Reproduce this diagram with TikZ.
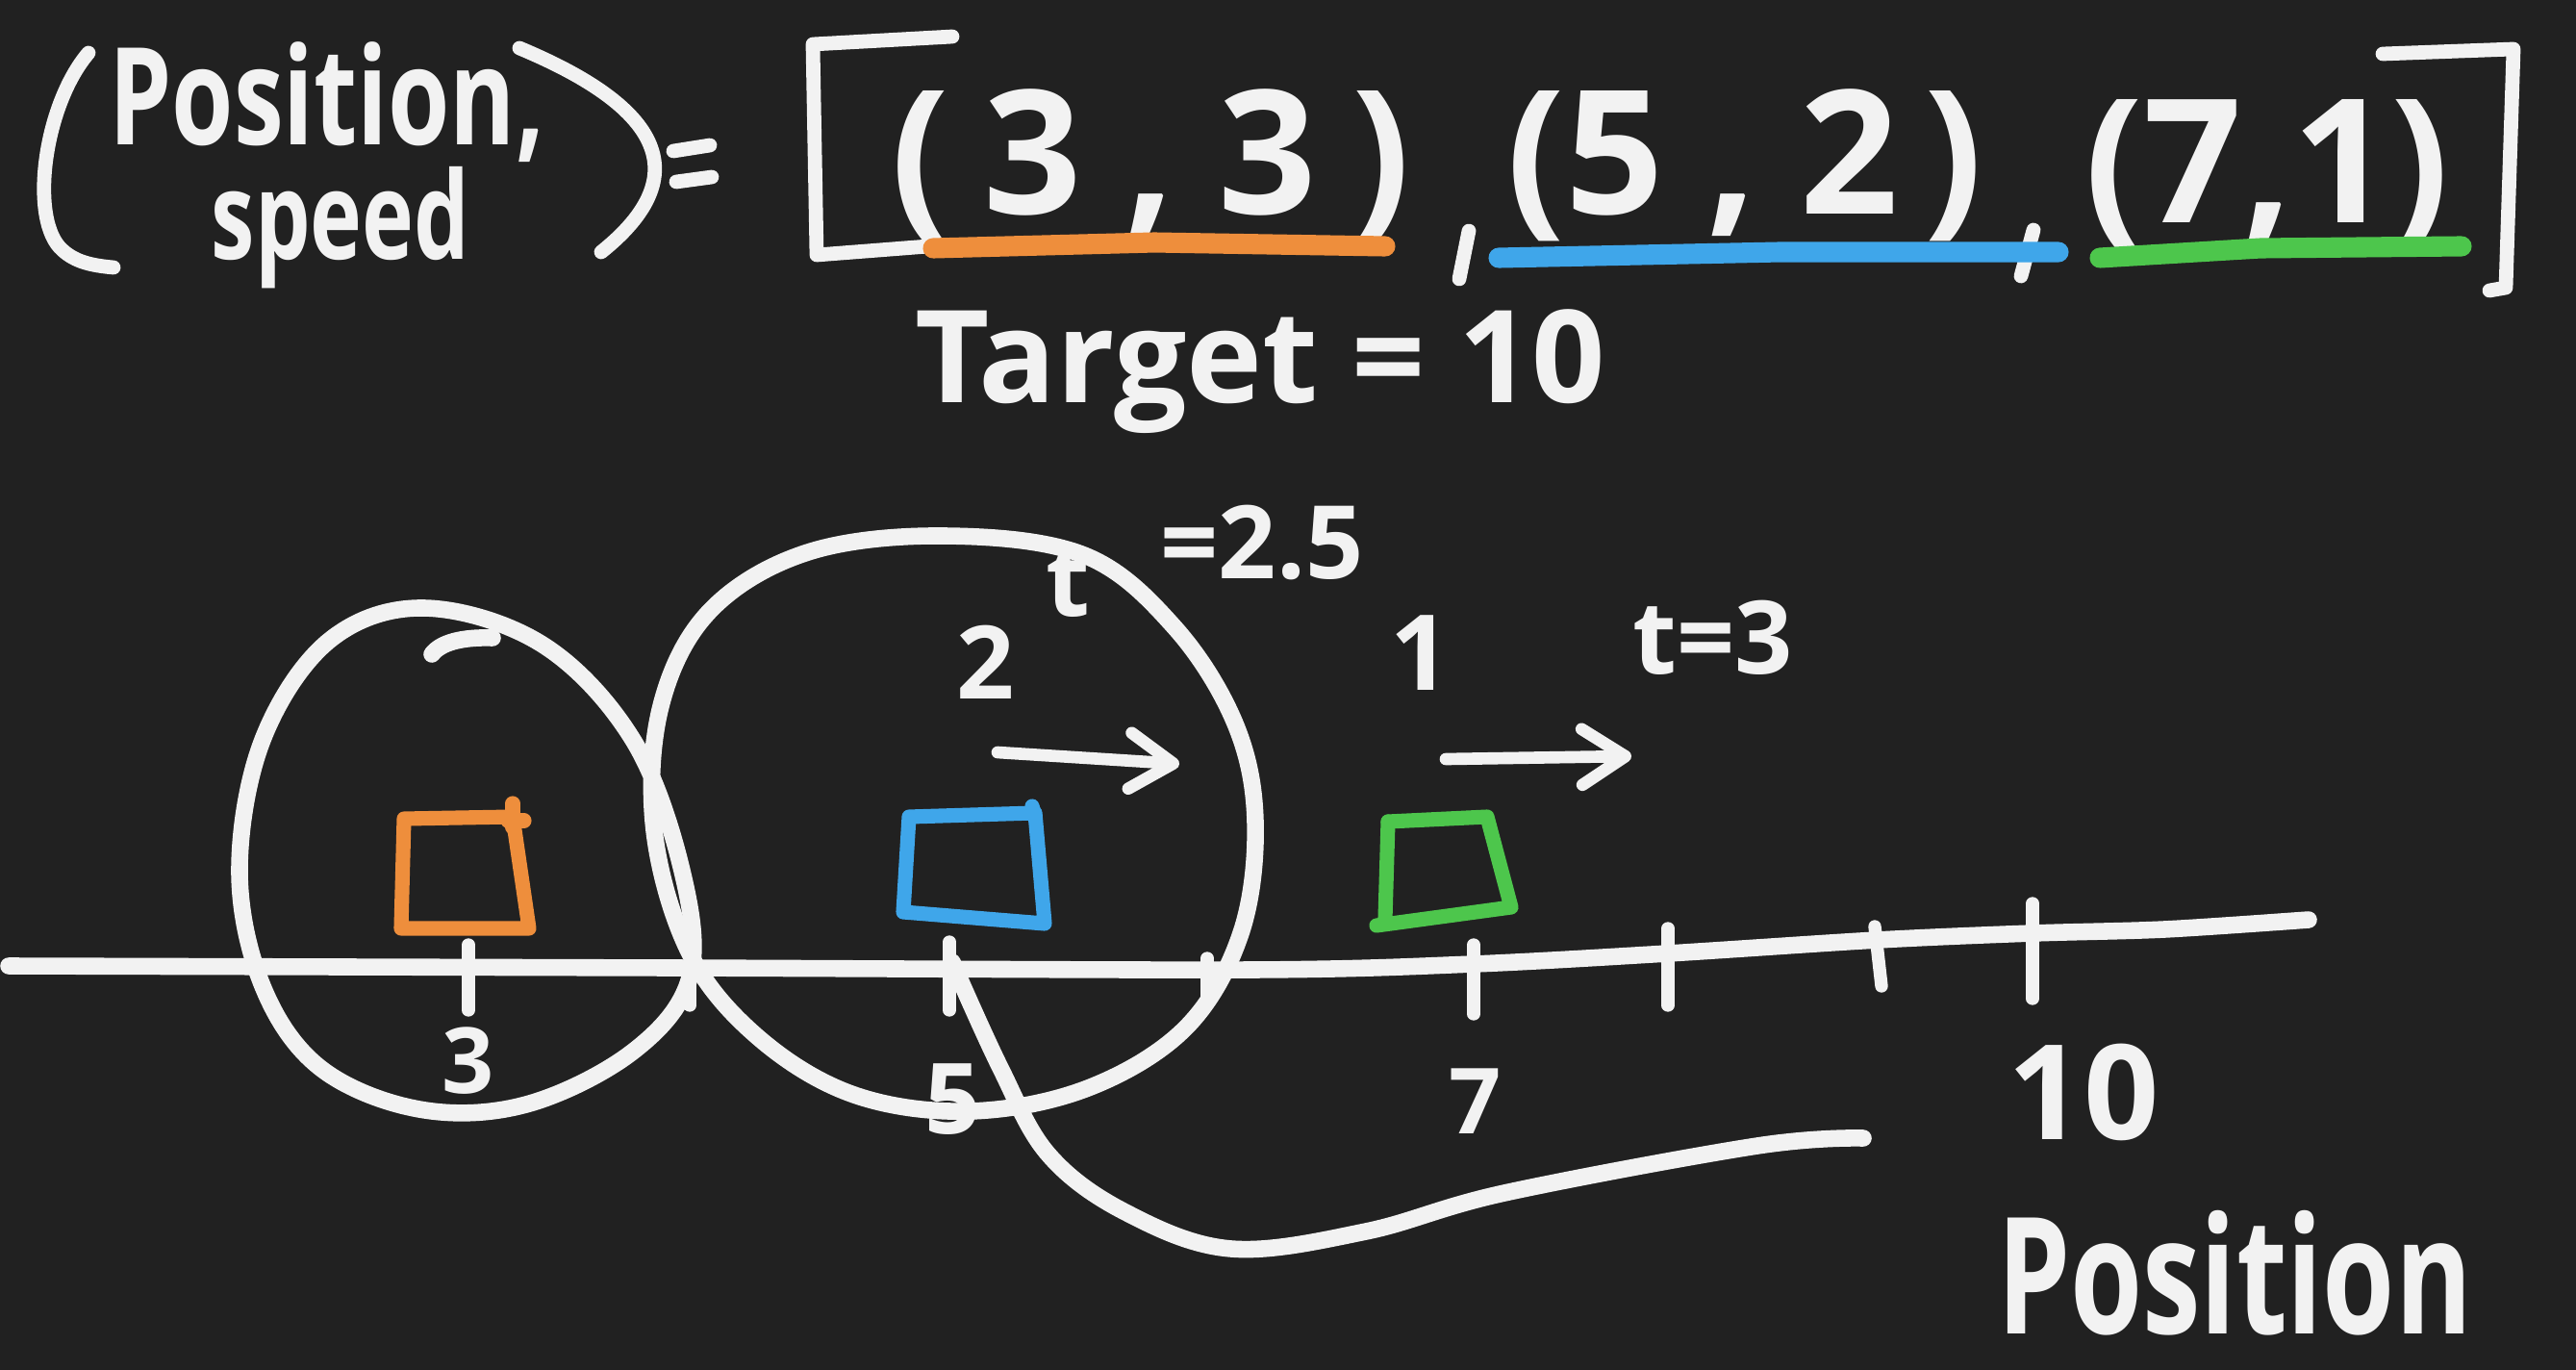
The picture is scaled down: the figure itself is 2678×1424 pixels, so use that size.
\documentclass[tikz,border=0pt]{standalone}
\usepackage{fontspec}
\setmainfont{Open Sans}
\usetikzlibrary{arrows.meta}
\definecolor{bg}{HTML}{212121}
\definecolor{org}{HTML}{EE8E3C}
\definecolor{blu}{HTML}{3FA6EA}
\definecolor{grn}{HTML}{4DC64C}
\definecolor{ink}{HTML}{F2F2F2}
\begin{document}
\begin{tikzpicture}[x=0.01cm,y=-0.01cm,
  pen/.style={draw=ink, line width=3.8pt, line cap=round, line join=round},
  thick pen/.style={pen, line width=4.2pt},
  ring/.style={pen, line width=5pt},
  hand/.style={text=ink, inner sep=0pt, anchor=base, font=\bfseries},
  hl/.style={line width=6pt, line cap=round},
  box/.style={line width=4.3pt, line cap=round, line join=round},
  arr/.style={pen, line width=3.6pt, -{Straight Barb[length=4.5mm,width=5.8mm,round]}},
]
\useasboundingbox (0,0) rectangle (2678,1424);
\fill[bg] (0,0) rectangle (2678,1424);

% ---------- top formula ----------
\draw[thick pen] (92,55) .. controls (45,110) and (30,230) .. (65,260) .. controls (78,272) and (95,276) .. (118,278);
\node[hand] (ps) at (340,150) {\fontsize{40}{40}\selectfont\begin{tabular}[t]{@{}c@{}}
  \scalebox{0.74}[1]{Position,}\\[-6pt]
  \hspace*{8pt}{\fontsize{36}{36}\selectfont\scalebox{0.72}[1]{speed}}
\end{tabular}};
\draw[thick pen] (540,50) .. controls (660,100) and (740,170) .. (625,262);
\draw[thick pen] (700,157) -- (738,151);
\draw[thick pen] (703,189) -- (740,184);
% left bracket
\draw[thick pen] (990,38) -- (845,46) -- (849,265) -- (965,256);
% tuples
\node[hand] (t1) at (1196,222) {\fontsize{51}{51}\selectfont (\hspace{.2em}3\hspace{.25em},\hspace{.25em}3\hspace{.2em})};
\draw[thick pen] (1527,240) -- (1517,290);
\node[hand] (t2) at (1814,222) {\fontsize{51}{51}\selectfont (5\hspace{.25em},\hspace{.25em}2\hspace{.15em})};
\draw[thick pen] (2114,239) -- (2101,287);
\node[hand] (t3) at (2357,231) {\fontsize{51}{51}\selectfont (7,1)};
% right bracket
\draw[thick pen] (2477,56) -- (2613,51) -- (2605,299) -- (2588,302);
% underlines
\draw[hl, org] (970,258) -- (1200,252) -- (1440,256);
\draw[hl, blu] (1558,268) -- (1850,262) -- (2140,262);
\draw[hl, grn] (2183,268) -- (2350,258) -- (2559,256);
\node[hand] (tgt) at (1310,418) {\fontsize{38}{38}\selectfont Target = 10};

% ---------- circles ----------
\draw[ring] plot[smooth cycle, tension=0.6] coordinates {
  (441,632) (564,670) (658,769) (709,905) (717,1016) (658,1093) (547,1148)
  (436,1153) (333,1110) (273,1025) (249,905) (273,769) (342,666)};
\draw[ring] (449,680) .. controls (458,668) and (480,662) .. (512,663);
\draw[ring] plot[smooth cycle, tension=0.6] coordinates {
  (982,557) (1127,577) (1221,652) (1284,752) (1305,854) (1290,970) (1233,1068)
  (1131,1131) (1008,1155) (888,1138) (789,1079) (717,991) (680,863) (687,734)
  (738,635) (840,574)};
% tail
\draw[ring] plot[smooth, tension=0.6] coordinates {
  (990,1000) (1040,1110) (1090,1200) (1170,1260) (1280,1298) (1420,1280)
  (1564,1240) (1827,1191) (1937,1183)};

% ---------- axis ----------
\draw[ring] plot[smooth, tension=0.5] coordinates {
  (9,1004) (700,1006) (1300,1008) (1532,1002) (1734,991) (1952,977) (2113,970) (2250,966) (2400,956)};
\foreach \i/\x/\a/\b in {a/487/982/1050, b/717/1016/1045, c/987/979/1050, d/1255/996/1042,
  e/1532/982/1054, f/1734/965/1045, h/2113/939/1038}{
  \draw[pen] (\x,\a) -- (\x,\b);
}
\draw[pen] (1949,963) -- (1956,1025);

% squares
\draw[box, org] (420,851) -- (533,849) -- (550,965) -- (417,965) -- cycle;
\draw[box, org] (533,835) -- (533,860);
\draw[box, org] (528,853) -- (545,853);
\draw[box, blu] (945,849) -- (1076,845) -- (1086,960) -- (939,948) -- cycle;
\draw[box, blu] (1073,838) -- (1076,848);
\draw[box, grn] (1443,854) -- (1546,849) -- (1571,943) -- (1431,962);
\draw[box, grn] (1443,854) -- (1440,955);

% labels on axis
\node[hand] (n3) at (487,1136) {\fontsize{27}{27}\selectfont 3};
\node[hand] (n5) at (991,1178) {\fontsize{29}{29}\selectfont 5};
\node[hand] (n7) at (1534,1178) {\fontsize{27}{27}\selectfont 7};
\node[hand] (n10) at (2166,1184) {\fontsize{39}{39}\selectfont 10};
\node[hand] (axl) at (2323,1386) {\fontsize{48}{48}\selectfont\scalebox{0.72}[1]{Position}};

% speeds and times
\node[hand] (tt) at (1110,640) {\fontsize{30}{30}\selectfont t};
\node[hand] (t25) at (1312,601) {\fontsize{30}{30}\selectfont =2.5};
\node[hand] (s2) at (1025,726) {\fontsize{30}{30}\selectfont 2};
\node[hand] (s1) at (1477,717) {\fontsize{31}{31}\selectfont 1};
\node[hand] (t3l) at (1781,700) {\fontsize{30}{30}\selectfont t=3};
\coordinate (a1s) at (1037,782);
\coordinate (a1e) at (1226,794);
\coordinate (a2s) at (1503,789);
\coordinate (a2e) at (1696,786);
\draw[arr] (a1s) -- (a1e);
\draw[arr] (a2s) -- (a2e);
\end{tikzpicture}
\end{document}
